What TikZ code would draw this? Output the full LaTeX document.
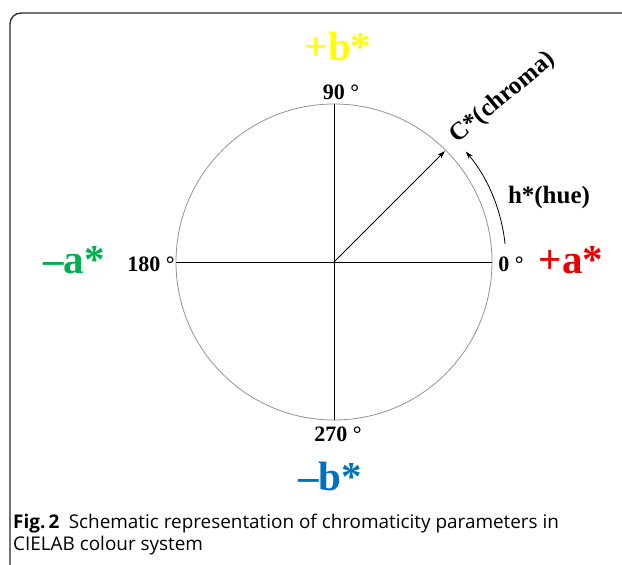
\documentclass[tikz,border=0pt]{standalone}
\usepackage{fontspec}
\setmainfont{Liberation Serif}
\newfontfamily\capfont{Open Sans}
\usetikzlibrary{arrows.meta,calc}
\definecolor{cyel}{RGB}{255,255,0}
\definecolor{cred}{RGB}{235,0,0}
\definecolor{cgreen}{RGB}{0,176,80}
\definecolor{cblue}{RGB}{0,112,192}
\definecolor{frame}{RGB}{40,40,40}
\tikzset{
  biglab/.style={font=\fontsize{41}{41}\selectfont\bfseries, inner sep=0pt},
  deglab/.style={font=\fontsize{22}{22}\selectfont\bfseries, inner sep=0pt},
  txtlab/.style={font=\fontsize{25}{25}\selectfont\bfseries, inner sep=0pt},
  axis/.style={line width=0.8pt, black},
  ring/.style={line width=0.8pt, gray!85},
  tip/.style={-{Stealth[length=8pt,width=5pt]}, line width=0.8pt}
}
\begin{document}
\begin{tikzpicture}[x=1pt,y=-1pt]
\useasboundingbox (0,0) rectangle (622,565);
\clip (0,0) rectangle (622,565);
\fill[white] (0,0) rectangle (622,565);
\draw[frame, line width=1.3pt, rounded corners=11pt] (10,600) -- (10,13) -- (660,13);
\coordinate (O) at (334,262);
\draw[ring] (O) circle[radius=158];
\coordinate (E) at (492,262);
\coordinate (W) at (176,262);
\coordinate (N) at (334,104);
\coordinate (S) at (334,420);
\draw[axis] (W) -- (E);
\draw[axis] (N) -- (S);
\coordinate (C) at ($(O)+(-45:157)$);
\draw[axis, tip] (O) -- (C);
\coordinate (H0) at ($(O)+(-6:172)$);
\draw[axis, tip] (H0) arc[start angle=-6, end angle=-40, radius=172];
\node[biglab, text=cyel] (pb) at (338,46) {+b*};
\node[biglab, text=cred] (pa) at (571,260) {+a*};
\node[biglab, text=cgreen] (ma) at (74,260) {\textendash a*};
\node[biglab, text=cblue] (mb) at (330,476) {\textendash b*};
\node[deglab] (d90) at (341,92) {90 \textdegree};
\node[deglab] (d0) at (511,264) {0 \textdegree};
\node[deglab] (d180) at (151,264) {180 \textdegree};
\node[deglab] (d270) at (338,434) {270 \textdegree};
\node[txtlab] (hue) at (549,197) {h*(hue)};
\node[txtlab, rotate=40] (chroma) at (503,98) {C*(chroma)};
\node[anchor=base west, inner sep=0pt, font=\capfont\fontsize{18.9}{22}\selectfont, align=left] (cap) at (13,550)
  {\textbf{Fig.\,2}\enspace Schematic representation of chromaticity parameters in\\CIELAB colour system};
\end{tikzpicture}
\end{document}
